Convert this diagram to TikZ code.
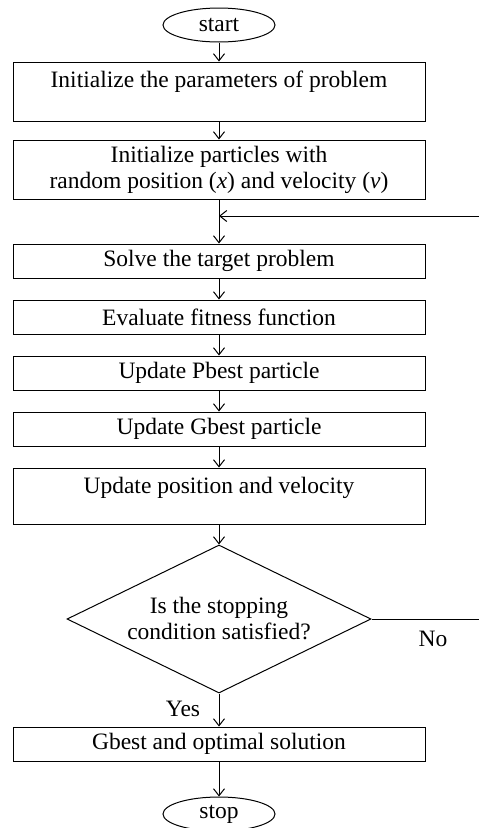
\documentclass[tikz,border=0pt]{standalone}
\usepackage{fontspec}
\setmainfont{Liberation Serif}
\usetikzlibrary{shapes.geometric,arrows.meta}
\begin{document}
\begin{tikzpicture}[x=1pt, y=-1pt,
  font=\fontsize{23.5}{26}\selectfont,
  every path/.style={line width=1pt},
  box/.style={draw, minimum width=412pt, minimum height=34pt, inner sep=0pt, align=center},
  topbox/.style={box, text height=25pt, text depth=#1},
  term/.style={draw, ellipse, minimum width=112pt, minimum height=34pt, inner sep=0pt},
  decide/.style={draw, diamond, aspect=2, inner sep=0pt, minimum width=304pt, minimum height=148pt, align=center},
  arr/.style={-{Straight Barb[length=7pt,width=11pt]}}
]
\useasboundingbox (0,0) rectangle (479,828);
\node[term] (start) at (219,25) {start};
\node[topbox=34pt] (init) at (219,91.5) {Initialize the parameters of problem};
\node[box, minimum height=59pt] (part) at (219,169.5) {Initialize particles with\\random position (\textit{x}) and velocity (\textit{v})};
\node[box] (solve) at (219,261) {Solve the target problem};
\node[box] (eval) at (219,317) {Evaluate fitness function};
\node[box] (pbest) at (219,373) {Update Pbest particle};
\node[box] (gbest) at (219,429) {Update Gbest particle};
\node[topbox=31pt] (upd) at (219,496) {Update position and velocity};
\node[decide] (stop?) at (219,619) {Is the stopping\\condition satisfied?};
\node[box] (sol) at (219,744) {Gbest and optimal solution};
\node[term] (stop) at (219,814) {stop};
\node (no) at (433,639) {No};
\node (yes) at (183,709) {Yes};
\coordinate (back) at (479,216);
\coordinate (out) at (479,619);
% main flow
\foreach \a/\b in {start/init, init/part, part/solve, solve/eval, eval/pbest, pbest/gbest, gbest/upd, upd/stop?, stop?/sol, sol/stop}
  \draw[arr] (\a) -- (\b);
% loop back
\draw (stop?.east) -- (out);
\draw[arr] (back) -- (back -| part.south);
\end{tikzpicture}
\end{document}
